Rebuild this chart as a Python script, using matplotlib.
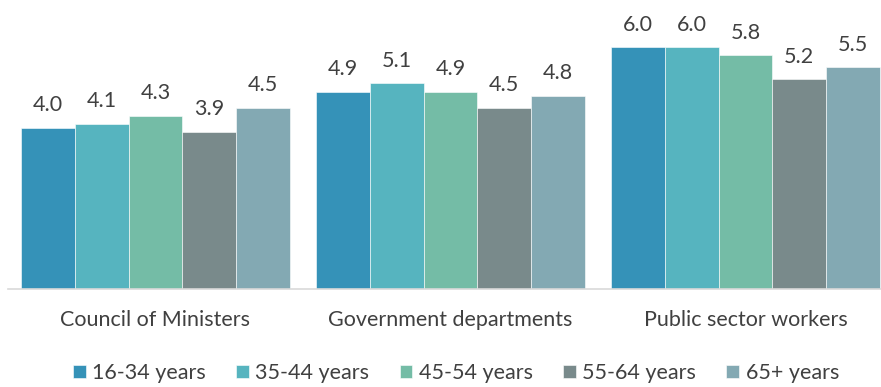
import matplotlib.pyplot as plt
import numpy as np

categories = ["Council of Ministers", "Government departments", "Public sector workers"]
series = ["16-34 years", "35-44 years", "45-54 years", "55-64 years", "65+ years"]
values = [
    [4.0, 4.9, 6.0],
    [4.1, 5.1, 6.0],
    [4.3, 4.9, 5.8],
    [3.9, 4.5, 5.2],
    [4.5, 4.8, 5.5],
]
colors = ["#3592B8", "#56B4BF", "#74BCA6", "#798A8B", "#83A9B3"]

plt.rcParams['font.family'] = ['Lato', 'DejaVu Sans']
txt = "#404040"

fig = plt.figure(figsize=(8.81, 3.87), dpi=100)
W, H = 881, 387
ax = fig.add_axes([8 / W, (H - 289) / H, (881 - 8) / W, 289 / H])

x = np.arange(len(categories))
n = len(series)
gw = 0.91
bw = gw / n
for i, (s, vals, c) in enumerate(zip(series, values, colors)):
    pos = x - gw / 2 + bw * (i + 0.5)
    bars = ax.bar(pos, vals, width=bw, color=c, label=s, edgecolor="white", linewidth=0.4)
    for b, v in zip(bars, vals):
        ax.annotate(f"{v:.1f}", (b.get_x() + b.get_width() / 2, v), xytext=(0, 9),
                    textcoords="offset points", ha="center", va="bottom",
                    fontsize=15.5, color=txt)

ax.set_xlim(-0.5, -0.5 + 873 / 295)
ax.set_ylim(0, 289 / 40.3)
ax.set_xticks(x)
ax.set_xticklabels(categories, fontsize=15.5, color=txt)
ax.tick_params(axis="x", length=0, pad=15)
ax.set_yticks([])
for sp in ["top", "right", "left"]:
    ax.spines[sp].set_visible(False)
ax.spines["bottom"].set_color("#D9D9D9")
ax.spines["bottom"].set_linewidth(1.2)

fig.legend(loc="center", bbox_to_anchor=(456 / W, (H - 373) / H), ncol=5, frameon=False,
           fontsize=15.5, handlelength=0.6, handleheight=0.6, handletextpad=0.3,
           columnspacing=1.4, labelcolor=txt)

fig.savefig("out.png", dpi=100)
